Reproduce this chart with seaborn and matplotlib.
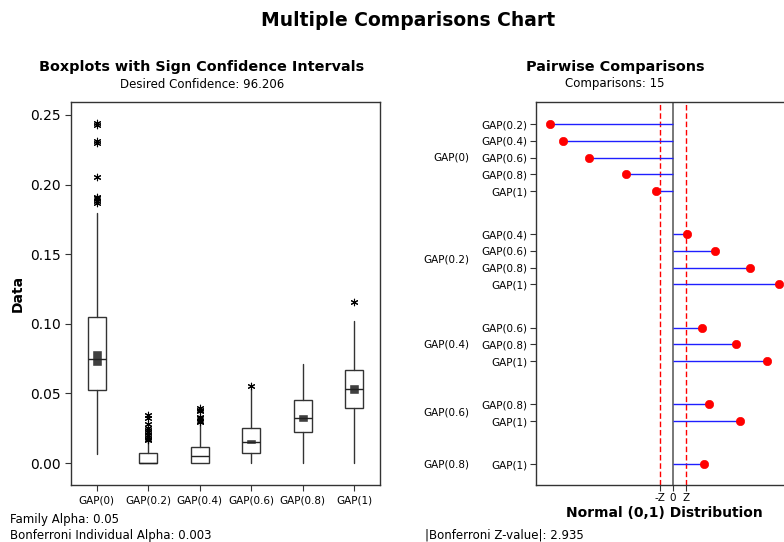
import matplotlib
matplotlib.use('Agg')
import matplotlib.pyplot as plt
import seaborn as sns
import pandas as pd

# left panel: boxplot summary
groups = ['GAP(0)', 'GAP(0.2)', 'GAP(0.4)', 'GAP(0.6)', 'GAP(0.8)', 'GAP(1)']
q1 = [0.0523, 0.0, 0.0, 0.0072, 0.0220, 0.0395]
med = [0.0748, 0.0, 0.0048, 0.0151, 0.0324, 0.0530]
q3 = [0.1047, 0.0073, 0.0112, 0.0254, 0.0450, 0.0666]
wlo = [0.0067, 0.0, 0.0, 0.0, 0.0, 0.0]
whi = [0.1798, 0.0150, 0.0270, 0.0535, 0.0710, 0.1020]
ci_lo = [0.0695, 0.0, 0.0040, 0.0139, 0.0295, 0.0494]
ci_hi = [0.0810, 0.0, 0.0056, 0.0172, 0.0350, 0.0566]
outliers = [
    [0.2440, 0.2430, 0.2315, 0.2300, 0.2057, 0.1910, 0.1900, 0.1885, 0.1870],
    [0.0343, 0.0320, 0.0280, 0.0250, 0.0235, 0.0220, 0.0200, 0.0187, 0.0175, 0.0163],
    [0.0395, 0.0380, 0.0370, 0.0330, 0.0320, 0.0305, 0.0295],
    [0.0550],
    [],
    [0.1158],
]

# right panel: pairwise comparisons
pair_group = ['GAP(0)'] * 5 + ['GAP(0.2)'] * 4 + ['GAP(0.4)'] * 3 + ['GAP(0.6)'] * 2 + ['GAP(0.8)']
pair_other = ['GAP(0.2)', 'GAP(0.4)', 'GAP(0.6)', 'GAP(0.8)', 'GAP(1)',
              'GAP(0.4)', 'GAP(0.6)', 'GAP(0.8)', 'GAP(1)',
              'GAP(0.6)', 'GAP(0.8)', 'GAP(1)',
              'GAP(0.8)', 'GAP(1)',
              'GAP(1)']
pair_z = [-27.2, -24.3, -18.4, -10.4, -3.8,
          3.2, 9.3, 17.1, 23.5,
          6.5, 14.0, 20.7,
          8.0, 14.8,
          6.8]
zcrit = 2.935

sns.set_style('white')
plt.rcParams['font.family'] = ['DejaVu Sans']
plt.rcParams['text.color'] = 'black'
plt.rcParams['axes.labelcolor'] = 'black'
plt.rcParams['xtick.color'] = 'black'
plt.rcParams['ytick.color'] = 'black'

fig = plt.figure(figsize=(7.84, 5.42), dpi=100)
W, H = 784, 542

def pos(l, t, r, b):
    return [l / W, 1 - b / H, (r - l) / W, (b - t) / H]

# ---------- left: boxplots ----------
ax1 = fig.add_axes(pos(71, 102, 380, 485))
stats = []
for i, g in enumerate(groups):
    stats.append(dict(label=g, q1=q1[i], med=med[i], q3=q3[i],
                      whislo=wlo[i], whishi=whi[i], fliers=[]))
ax1.bxp(stats, positions=range(len(groups)), widths=0.35, showcaps=False,
        showfliers=False, patch_artist=True,
        boxprops=dict(facecolor='white', edgecolor='#333333', linewidth=1.0),
        whiskerprops=dict(color='#333333', linewidth=1.0),
        medianprops=dict(color='#222222', linewidth=1.0, zorder=4))
ci_df = pd.DataFrame({'x': range(len(groups)), 'lo': ci_lo, 'hi': ci_hi})
ax1.bar(ci_df['x'], ci_df['hi'] - ci_df['lo'], bottom=ci_df['lo'], width=0.19,
        color='#404040', zorder=3)
out_df = pd.DataFrame([(i, v) for i, vals in enumerate(outliers) for v in vals],
                      columns=['x', 'y'])
sns.scatterplot(data=out_df, x='x', y='y', ax=ax1, marker=(6, 2, 0), s=22,
                color='black', linewidth=0.8, zorder=5, legend=False)
ax1.set_xlim(-0.5, 5.5)
ax1.set_ylim(-0.0158, 0.2593)
ax1.set_xticks(range(len(groups)))
ax1.set_xticklabels(groups, fontsize=7.5)
ax1.set_yticks([0, 0.05, 0.10, 0.15, 0.20, 0.25])
ax1.set_yticklabels(['0.00', '0.05', '0.10', '0.15', '0.20', '0.25'], fontsize=10)
ax1.tick_params(axis='both', direction='out', length=4, width=0.8, color='#333333',
                bottom=True, left=True)
ax1.set_xlabel('')
ax1.set_ylabel('Data', fontsize=10, fontweight='bold')
for s in ax1.spines.values():
    s.set_color('#333333')
    s.set_linewidth(1.0)

# ---------- right: pairwise comparisons ----------
ax2 = fig.add_axes(pos(536, 102, 792, 485))
ypos = []
gap = 2.58
cur = 0.0
prev = None
for g in pair_group:
    if prev is not None:
        cur += 1.0 if g == prev else gap
    ypos.append(cur)
    prev = g
pdf = pd.DataFrame({'group': pair_group, 'other': pair_other, 'z': pair_z, 'y': ypos})
ax2.hlines(pdf['y'], 0, pdf['z'], color='#1f1fff', linewidth=1.0, zorder=2)
sns.scatterplot(data=pdf, x='z', y='y', ax=ax2, color='red', s=36,
                edgecolor='red', zorder=4, legend=False)
ax2.axvline(0, color='#777777', linewidth=1.4, zorder=1)
ax2.axvline(-zcrit, color='red', linestyle='--', dashes=(4, 2), linewidth=1.0, zorder=1)
ax2.axvline(zcrit, color='red', linestyle='--', dashes=(4, 2), linewidth=1.0, zorder=1)
ax2.set_xlim(-30.2, 26.3)
ax2.set_ylim(ypos[-1] + 1.24, -1.32)
ax2.set_yticks(ypos)
ax2.set_yticklabels(pair_other, fontsize=7.5)
ax2.set_xticks([-zcrit, 0, zcrit])
ax2.set_xticklabels(['-Z', '0', 'Z'], fontsize=7.5)
ax2.tick_params(axis='both', direction='out', length=4, width=0.8, color='#333333',
                bottom=True, left=True, pad=2)
ax2.set_ylabel('')
ax2.set_xlabel('Normal (0,1) Distribution', fontsize=10, fontweight='bold', labelpad=2)
for s in ax2.spines.values():
    s.set_color('#333333')
    s.set_linewidth(1.0)
for g in pdf['group'].unique():
    ym = pdf.loc[pdf['group'] == g, 'y'].mean()
    ax2.text(-0.262, ym, g, transform=ax2.get_yaxis_transform(), ha='right',
             va='center', fontsize=7.5)

# ---------- titles and notes ----------
fig.text(408 / W, 1 - 20 / H, 'Multiple Comparisons Chart', ha='center', va='center',
         fontsize=13.5, fontweight='bold')
fig.text(202 / W, 1 - 67 / H, 'Boxplots with Sign Confidence Intervals', ha='center',
         va='center', fontsize=10.4, fontweight='semibold')
fig.text(202 / W, 1 - 84 / H, 'Desired Confidence: 96.206', ha='center', va='center',
         fontsize=8.5)
fig.text(615 / W, 1 - 67 / H, 'Pairwise Comparisons', ha='center', va='center',
         fontsize=10.4, fontweight='semibold')
fig.text(615 / W, 1 - 84 / H, 'Comparisons: 15', ha='center', va='center', fontsize=8.5)
fig.text(10 / W, 1 - 519 / H, 'Family Alpha: 0.05', ha='left', va='center', fontsize=8.5)
fig.text(10 / W, 1 - 535 / H, 'Bonferroni Individual Alpha: 0.003', ha='left',
         va='center', fontsize=8.5)
fig.text(425 / W, 1 - 535 / H, '|Bonferroni Z-value|: 2.935', ha='left', va='center',
         fontsize=8.5)

fig.savefig('out.png', dpi=100)
